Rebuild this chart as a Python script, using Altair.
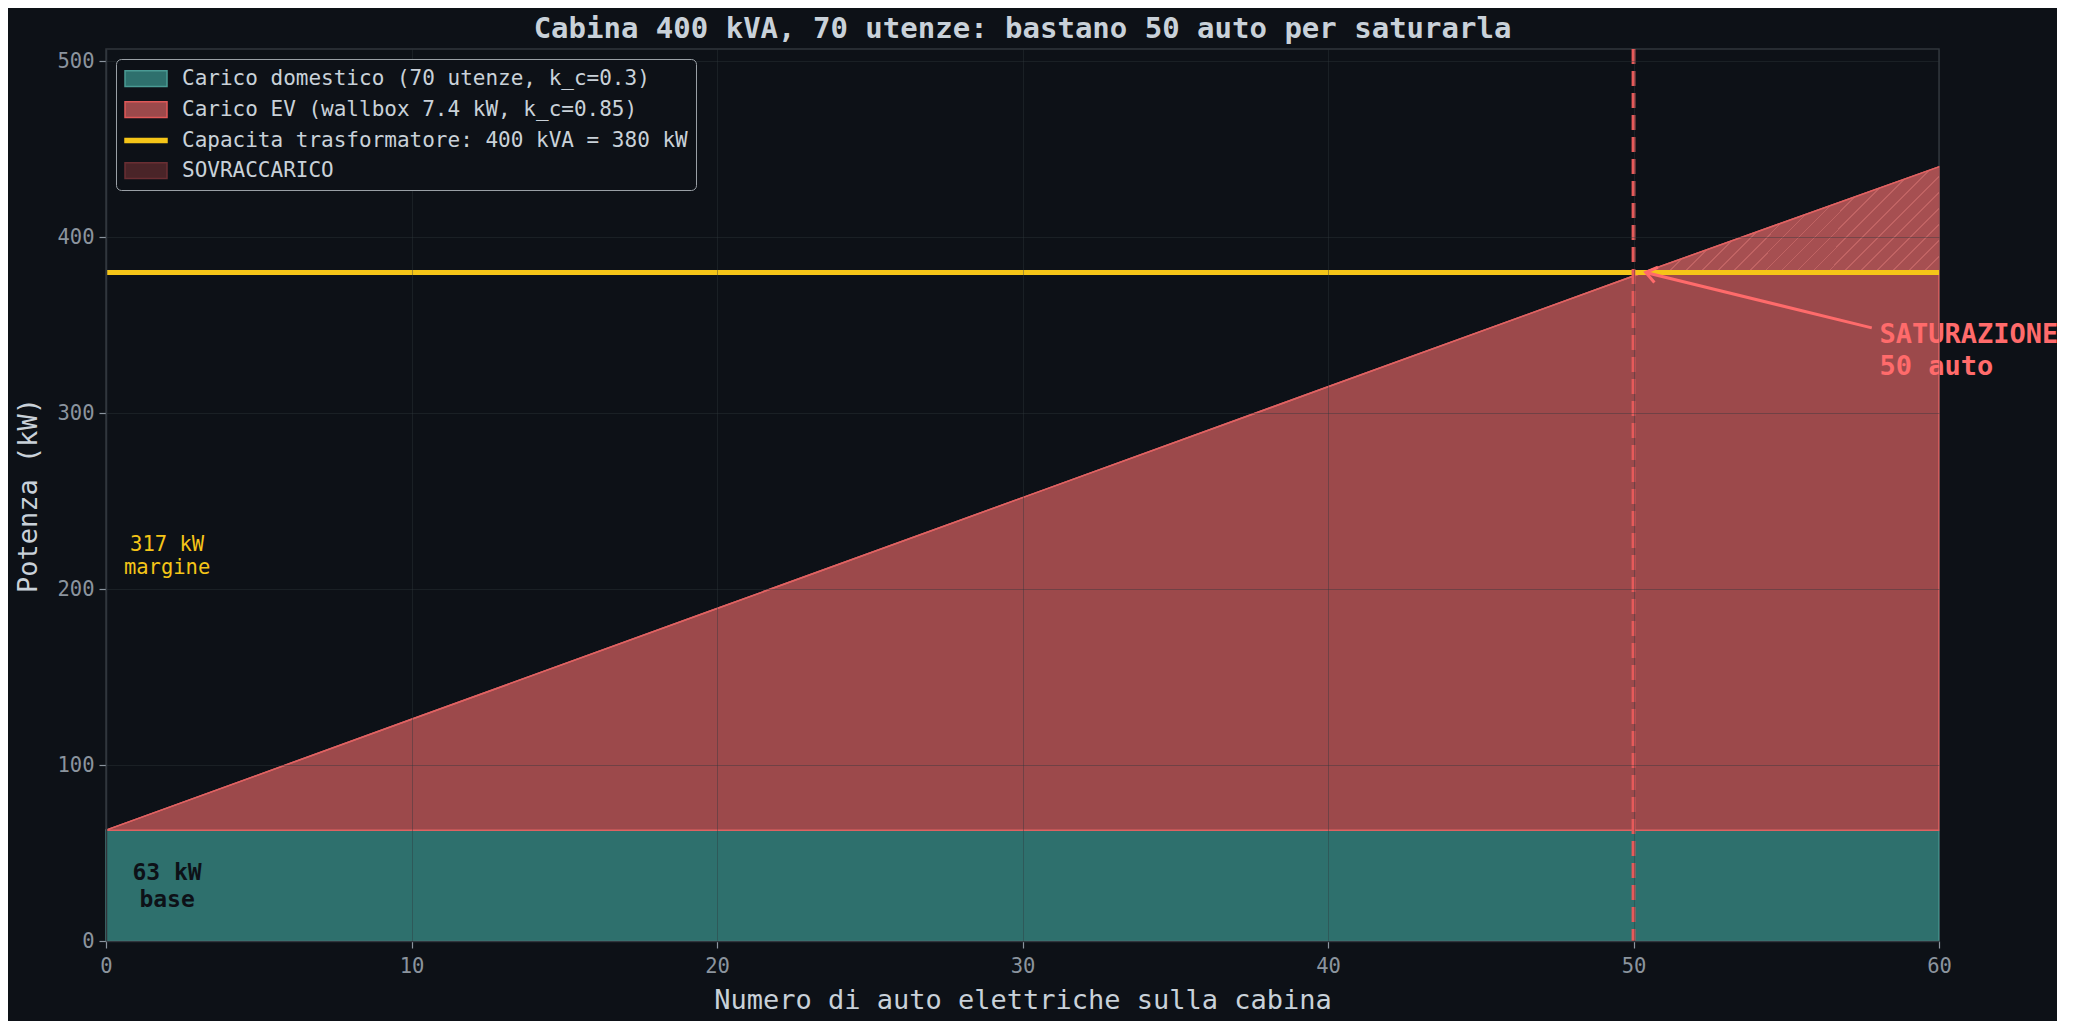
import altair as alt
import pandas as pd

# valori
AUTO = [0, 10, 20, 30, 40, 50, 60]
CARICO_TOTALE = [63, 126, 189, 252, 315, 378, 440]
BASE_AUTO = [0, 60]
BASE_KW = [63, 63]
CAPACITA_KW = 380
LINEA_SAT = 50
OVER_AUTO = [50.4, 60]
OVER_BASSO = [380, 380]
OVER_ALTO = [380, 440]

SERIE = [
    "Carico domestico (70 utenze, k_c=0.3)",
    "Carico EV (wallbox 7.4 kW, k_c=0.85)",
    "Capacita trasformatore: 400 kVA = 380 kW",
    "SOVRACCARICO",
]

# annotazioni: testo, posizione in dati
NOTE_SAT = ["SATURAZIONE\n50 auto"]
NOTE_SAT_X = [58.05]
NOTE_SAT_Y = [352]
FRECCIA_DA = (57.8, 348.5)
FRECCIA_A = (50.4, 380)
NOTE_MARG = ["317 kW\nmargine"]
NOTE_MARG_XY = (2, 225)
NOTE_BASE = ["63 kW\nbase"]
NOTE_BASE_XY = (2, 38.5)

FONT = "DejaVu Sans Mono"
SFONDO = "#0d1117"
TEAL = "#2e706d"
ROSSO = "#9c494b"
GIALLO = "#f5c518"
ROSSO_VIVO = "#ff6b6b"


def asse_x():
    return alt.X("auto:Q", scale=alt.Scale(domain=[0, 60], nice=False, zero=False),
                 axis=alt.Axis(values=AUTO, title="Numero di auto elettriche sulla cabina",
                               labelPadding=8, titlePadding=11, labelFlush=False, zindex=1))


def asse_y():
    return alt.Y("kw:Q", scale=alt.Scale(domain=[0, 507], nice=False),
                 axis=alt.Axis(values=[0, 100, 200, 300, 400, 500], title="Potenza (kW)",
                               labelPadding=5, titlePadding=14, labelFlush=False, zindex=1))


base = alt.Chart(pd.DataFrame({"auto": BASE_AUTO, "kw": BASE_KW, "kw0": [0, 0]})).mark_area(
    color=TEAL, stroke="#4a9a94", strokeWidth=1.2
).encode(x=asse_x(), y=asse_y(), y2="kw0:Q")

ev = alt.Chart(pd.DataFrame({"auto": AUTO, "kw": CARICO_TOTALE, "kw0": [63] * len(AUTO)})).mark_area(
    color=ROSSO, stroke="#e06262", strokeWidth=1.5
).encode(x=asse_x(), y=asse_y(), y2="kw0:Q")

# tratteggio "//" del sovraccarico simulato con un gradiente a strisce
n_righe, mezza = 25, 0.0022
stops = [alt.GradientStop(offset=0, color="#a64f51")]
for i in range(1, n_righe):
    c = i / n_righe
    stops += [alt.GradientStop(offset=c - mezza, color="#a64f51"),
              alt.GradientStop(offset=c - mezza, color="#c06363"),
              alt.GradientStop(offset=c + mezza, color="#c06363"),
              alt.GradientStop(offset=c + mezza, color="#a64f51")]
stops.append(alt.GradientStop(offset=1, color="#a64f51"))
tratteggio = alt.LinearGradient(gradient="linear", stops=stops, x1=0, y1=0, x2=1.204, y2=0.432)

over = alt.Chart(pd.DataFrame({"auto": OVER_AUTO, "kw": OVER_ALTO, "kw0": OVER_BASSO})).mark_area(
    color=tratteggio
).encode(x=asse_x(), y=asse_y(), y2="kw0:Q")

ev_bordo = alt.Chart(pd.DataFrame({"auto": AUTO, "kw": CARICO_TOTALE})).mark_line(
    color="#e06262", strokeWidth=1.5
).encode(x=asse_x(), y=asse_y())

capacita = alt.Chart(pd.DataFrame({"kw": [CAPACITA_KW]})).mark_rule(
    color=GIALLO, strokeWidth=5
).encode(y=asse_y())

saturazione = alt.Chart(pd.DataFrame({"auto": [LINEA_SAT]})).mark_rule(
    color="#e65a5a", strokeWidth=3.8, strokeDash=[15, 7]
).encode(x=asse_x())

freccia = alt.Chart(pd.DataFrame({
    "auto": [FRECCIA_DA[0]], "kw": [FRECCIA_DA[1]],
    "auto2": [FRECCIA_A[0]], "kw2": [FRECCIA_A[1]],
})).mark_rule(color=ROSSO_VIVO, strokeWidth=3).encode(
    x=asse_x(), y=asse_y(), x2="auto2:Q", y2="kw2:Q")

punta = alt.Chart(pd.DataFrame({"auto": [FRECCIA_A[0]], "kw": [FRECCIA_A[1]]})).mark_point(
    shape="M -0.8 1.1 L 0 0 L 0.8 1.1", filled=False, color=ROSSO_VIVO,
    strokeWidth=3, size=380, angle=283, opacity=1
).encode(x=asse_x(), y=asse_y())

testo_sat = alt.Chart(pd.DataFrame({"auto": NOTE_SAT_X, "kw": NOTE_SAT_Y, "t": NOTE_SAT})).mark_text(
    align="left", baseline="top", lineBreak="\n", lineHeight=32, font=FONT,
    fontSize=27, fontWeight="bold", color=ROSSO_VIVO
).encode(x=asse_x(), y=asse_y(), text="t:N")

testo_marg = alt.Chart(pd.DataFrame({"auto": [NOTE_MARG_XY[0]], "kw": [NOTE_MARG_XY[1]], "t": NOTE_MARG})).mark_text(
    align="center", baseline="middle", lineBreak="\n", lineHeight=23, font=FONT,
    fontSize=20.5, color=GIALLO
).encode(x=asse_x(), y=asse_y(), text="t:N")

testo_base = alt.Chart(pd.DataFrame({"auto": [NOTE_BASE_XY[0]], "kw": [NOTE_BASE_XY[1]], "t": NOTE_BASE})).mark_text(
    align="center", baseline="middle", lineBreak="\n", lineHeight=27, font=FONT,
    fontSize=23, fontWeight="bold", color=SFONDO
).encode(x=asse_x(), y=asse_y(), text="t:N")

# legenda costruita su un layer invisibile
RETT = "M -1 -0.75 L 3 -0.75 L 3 0.75 L -1 0.75 Z"
LINEA = "M -1 -0.18 L 3 -0.18 L 3 0.18 L -1 0.18 Z"
leg = alt.Legend(
    title=None, orient="top-left", offset=10, padding=8, fillColor=SFONDO,
    strokeColor="#9aa0a6", cornerRadius=5, labelFont=FONT, labelFontSize=21,
    labelColor="#c9d1d9", symbolSize=441, symbolStrokeWidth=1.5, symbolOpacity=1,
    labelOffset=35, rowPadding=8, labelLimit=900, zindex=2,
)
legenda = alt.Chart(pd.DataFrame({"serie": SERIE})).mark_point(filled=True, opacity=0).encode(
    x=alt.value(0), y=alt.value(0),
    fill=alt.Fill("serie:N", scale=alt.Scale(domain=SERIE, range=[TEAL, ROSSO, GIALLO, "#4a2428"]), legend=leg),
    stroke=alt.Stroke("serie:N", scale=alt.Scale(domain=SERIE, range=["#4a9a94", "#e05858", GIALLO, "#6a2e33"]), legend=leg),
    shape=alt.Shape("serie:N", scale=alt.Scale(domain=SERIE, range=[RETT, RETT, LINEA, RETT]), legend=leg),
)

chart = alt.layer(
    base, ev, over, ev_bordo, capacita, saturazione, freccia, punta,
    testo_sat, testo_marg, testo_base, legenda
).properties(
    width=1833, height=892,
    autosize=alt.AutoSizeParams(type="none"),
    padding={"left": 98, "top": 41, "right": 118, "bottom": 80},
    title=alt.TitleParams(
        "Cabina 400 kVA, 70 utenze: bastano 50 auto per saturarla",
        font=FONT, fontSize=29, fontWeight="bold", color="#c9d1d9", anchor="middle", offset=3,
    ),
).configure(
    background=SFONDO,
).configure_view(
    stroke="#30363d", strokeWidth=1.5,
).configure_axis(
    domainColor="#30363d", domainWidth=1.5, tickColor="#8b949e", tickSize=7, tickWidth=1.2,
    labelColor="#8b949e", labelFont=FONT, labelFontSize=20.5,
    titleFont=FONT, titleFontSize=27, titleFontWeight="normal", titleColor="#c9d1d9",
    gridColor="#30363d", gridOpacity=0.4, gridWidth=1,
)

chart.save("out.html", embed_options={"renderer": "svg", "actions": False})
